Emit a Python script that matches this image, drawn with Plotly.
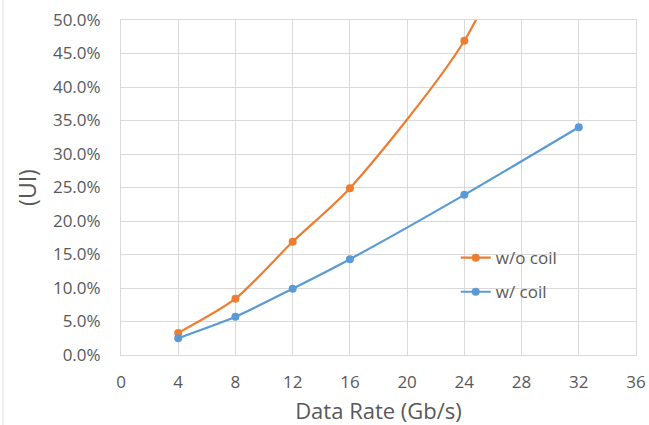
import plotly.graph_objects as go

rate_wo = [4, 8, 12, 16, 24, 32]
ui_wo = [0.033, 0.084, 0.169, 0.249, 0.469, 0.84]
rate_w = [4, 8, 12, 16, 24, 32]
ui_w = [0.025, 0.057, 0.099, 0.143, 0.239, 0.340]
x_ticks = [0, 4, 8, 12, 16, 20, 24, 28, 32, 36]

ORANGE = "#ED7D31"
BLUE = "#5B9BD5"
GRID = "#D9D9D9"
TXT = "#595959"
FONT = "Open Sans"

fig = go.Figure()
fig.add_trace(go.Scatter(x=rate_wo, y=ui_wo, name="w/o coil", mode="lines+markers",
                         legendgroup="a",
                         line=dict(color=ORANGE, width=2.2, shape="spline", smoothing=0.7),
                         marker=dict(size=8, color=ORANGE), cliponaxis=True))
fig.add_trace(go.Scatter(x=rate_w, y=ui_w, name="w/ coil", mode="lines+markers",
                         legendgroup="b",
                         line=dict(color=BLUE, width=2.2, shape="spline", smoothing=0.6),
                         marker=dict(size=8, color=BLUE), cliponaxis=False))

fig.update_layout(
    width=649, height=425,
    margin=dict(l=121, r=13, t=20, b=70),
    paper_bgcolor="white", plot_bgcolor="white",
    font=dict(family=FONT, color=TXT, size=17),
    showlegend=True,
    legend=dict(x=0.650, y=0.343, xanchor="left", yanchor="top",
                bgcolor="rgba(0,0,0,0)", font=dict(size=17, color=TXT),
                itemwidth=30, traceorder="grouped", tracegroupgap=9),
    xaxis=dict(range=[0, 36], tickvals=x_ticks, showgrid=True, gridcolor=GRID,
               gridwidth=1, zeroline=False, showline=True, linecolor=GRID, mirror=True,
               ticks="", tickfont=dict(size=17, color=TXT), ticklabelstandoff=12,
               automargin=False,
               title=dict(text="Data Rate (Gb/s)", font=dict(size=22, color=TXT), standoff=13)),
    yaxis=dict(range=[0, 0.5], dtick=0.05, tickformat=".1%", showgrid=True,
               gridcolor=GRID, gridwidth=1, zeroline=False, showline=True,
               linecolor=GRID, mirror=True, ticks="", tickfont=dict(size=17, color=TXT),
               ticklabelstandoff=16, automargin=False,
               title=dict(text="(UI)", font=dict(size=23, color=TXT), standoff=9)),
)
fig.add_shape(type="line", xref="paper", yref="paper", x0=-118/515, x1=-118/515,
              y0=-70/335, y1=1 + 20/335, line=dict(color="#DDDDDD", width=1))

fig.write_html("out.html", config={"displayModeBar": False},
               post_script="document.body.style.margin='0';")
